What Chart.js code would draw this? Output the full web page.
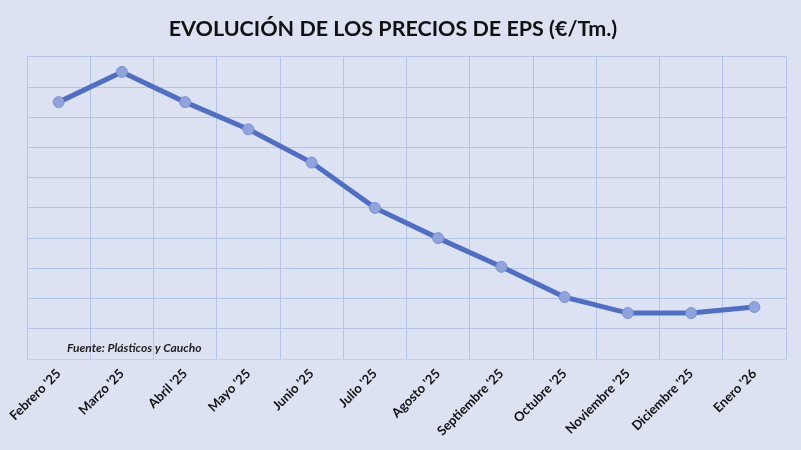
<!doctype html>
<html lang="es">
<head>
<meta charset="UTF-8" />
<title>Evolución de los precios de EPS</title>
<style>
  html, body { margin: 0; padding: 0; background: #dde2f2; }
  #wrap { width: 801px; height: 450px; }
</style>
</head>
<body>
<div id="wrap"><canvas id="chart" width="801" height="450"></canvas></div>
<script src="https://cdn.jsdelivr.net/npm/chart.js"></script>
<script>
const labels = ["Febrero '25", "Marzo '25", "Abril '25", "Mayo '25", "Junio '25", "Julio '25",
  "Agosto '25", "Septiembre '25", "Octubre '25", "Noviembre '25", "Diciembre '25", "Enero '26"];
// valores (escala relativa, sin etiquetas en el eje)
const precios = [8.5, 9.5, 8.5, 7.6, 6.5, 5.0, 4.0, 3.05, 2.05, 1.52, 1.52, 1.72];
const fuente = 'Fuente: Plásticos y Caucho';

const fuentePlugin = {
  id: 'fuente',
  afterDatasetsDraw(chart) {
    const { ctx, chartArea } = chart;
    ctx.save();
    ctx.font = 'italic bold 12px Lato';
    ctx.fillStyle = '#222';
    ctx.textBaseline = 'middle';
    ctx.fillText(fuente, chartArea.left + 40, chartArea.bottom - 11);
    ctx.restore();
  }
};

new Chart(document.getElementById('chart'), {
  type: 'line',
  data: {
    labels,
    datasets: [{
      data: precios,
      borderColor: '#4f6fc7',
      borderWidth: 5,
      tension: 0,
      pointRadius: 5.5,
      pointBackgroundColor: '#8fa3dc',
      pointBorderColor: '#7a92d6',
      pointBorderWidth: 1
    }]
  },
  options: {
    responsive: false,
    animation: false,
    layout: { padding: { left: 0, right: 15, bottom: 0 } },
    plugins: {
      legend: { display: false },
      tooltip: { enabled: false },
      title: {
        display: true,
        text: 'EVOLUCIÓN DE LOS PRECIOS DE EPS (€/Tm.)',
        color: '#111',
        font: { family: 'Lato', size: 21.5, weight: 'bold' },
        padding: { top: 16, bottom: 15 }
      }
    },
    scales: {
      x: {
        offset: true,
        afterFit(scale) { scale.height = 91; },
        grid: { offset: true, color: '#b3c4ea', lineWidth: 1, drawTicks: false },
        border: { color: '#c9cfdd' },
        ticks: {
          minRotation: 45, maxRotation: 45, autoSkip: false, padding: 7,
          color: '#111',
          font: { family: 'Lato', size: 13, weight: 'bold' }
        }
      },
      y: {
        min: 0, max: 10,
        afterFit(scale) { scale.width = 27; },
        grid: { color: '#b3c4ea', lineWidth: 1, drawTicks: false },
        border: { display: false },
        ticks: { display: false, stepSize: 1 }
      }
    }
  },
  plugins: [fuentePlugin]
});
</script>
</body>
</html>
